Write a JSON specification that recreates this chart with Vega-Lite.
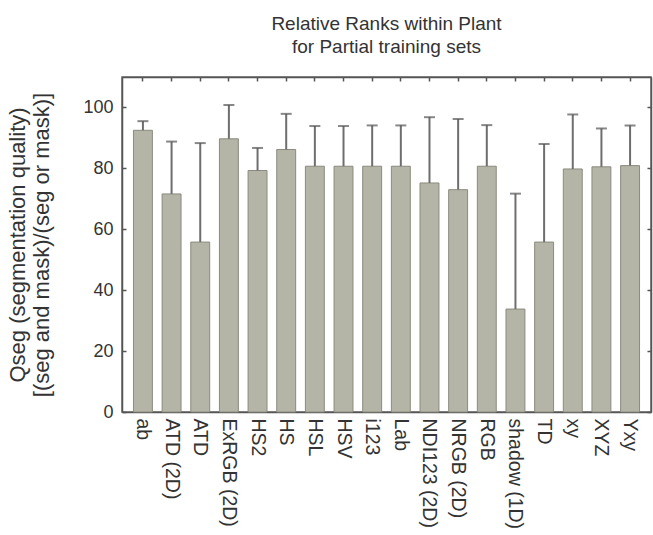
{
  "$schema": "https://vega.github.io/schema/vega-lite/v6.json",
  "width": 529,
  "height": 335,
  "autosize": {"type": "none"},
  "padding": {"left": 122, "top": 77, "right": 2, "bottom": 123},
  "background": "white",
  "title": {
    "text": ["Relative Ranks within Plant", "for Partial training sets"],
    "fontSize": 19,
    "font": "Liberation Sans",
    "fontWeight": "normal",
    "color": "#333333",
    "lineHeight": 23,
    "offset": 19
  },
  "config": {
    "view": {"stroke": "#666666", "strokeWidth": 1.5},
    "axis": {
      "grid": false,
      "domainColor": "#555555",
      "domainWidth": 1.5,
      "tickColor": "#555555",
      "tickWidth": 1.5,
      "labelFont": "Liberation Sans",
      "titleFont": "Liberation Sans",
      "labelColor": "#333333",
      "titleColor": "#333333"
    }
  },
  "data": {
    "values": [
      {"method": "ab", "value": 92.5, "upper": 95.5},
      {"method": "ATD (2D)", "value": 71.6, "upper": 88.8},
      {"method": "ATD", "value": 55.8, "upper": 88.3},
      {"method": "ExRGB (2D)", "value": 89.7, "upper": 100.8},
      {"method": "HS2", "value": 79.3, "upper": 86.7},
      {"method": "HS", "value": 86.2, "upper": 97.9},
      {"method": "HSL", "value": 80.7, "upper": 93.9},
      {"method": "HSV", "value": 80.7, "upper": 93.9},
      {"method": "i123", "value": 80.7, "upper": 94.1},
      {"method": "Lab", "value": 80.7, "upper": 94.1},
      {"method": "NDI123 (2D)", "value": 75.2, "upper": 96.8},
      {"method": "NRGB (2D)", "value": 73.0, "upper": 96.2},
      {"method": "RGB", "value": 80.7, "upper": 94.2},
      {"method": "shadow (1D)", "value": 33.8, "upper": 71.7},
      {"method": "TD", "value": 55.8, "upper": 88.0},
      {"method": "xy", "value": 79.8, "upper": 97.7},
      {"method": "XYZ", "value": 80.5, "upper": 93.1},
      {"method": "Yxy", "value": 80.9, "upper": 94.1}
    ]
  },
  "layer": [
    {
      "mark": {"type": "bar", "fill": "#b5b5a7", "stroke": "#8a8a7e", "strokeWidth": 1},
      "encoding": {
        "x": {
          "field": "method", "type": "nominal", "sort": null,
          "scale": {"paddingInner": 0.34, "paddingOuter": 0.4},
          "axis": {"orient": "bottom", "title": null, "labelAngle": 90, "labelFontSize": 19.5, "tickSize": -4, "labelPadding": 10}
        },
        "y": {
          "field": "value", "type": "quantitative",
          "scale": {"domain": [0, 110], "nice": false},
          "axis": {
            "orient": "left",
            "values": [0, 20, 40, 60, 80, 100],
            "tickSize": -4,
            "labelFontSize": 18,
            "labelPadding": 13,
            "title": ["Qseg (segmentation quality)", "[(seg and mask)/(seg or mask)]"],
            "titleFontSize": 22,
            "titleFontWeight": "normal",
            "titleLineHeight": 24,
            "titlePadding": 29
          }
        }
      }
    },
    {
      "mark": {"type": "rule", "color": "#6e6e6e", "strokeWidth": 2},
      "encoding": {
        "x": {
          "field": "method", "type": "nominal", "sort": null,
          "axis": {"orient": "top", "title": null, "labels": false, "tickSize": -4, "domain": true}
        },
        "y": {
          "field": "value", "type": "quantitative",
          "axis": {"orient": "right", "title": null, "labels": false, "values": [0, 20, 40, 60, 80, 100], "tickSize": -4}
        },
        "y2": {"field": "upper"}
      }
    },
    {
      "mark": {"type": "tick", "orient": "horizontal", "color": "#555555", "size": 11, "thickness": 2},
      "encoding": {
        "x": {"field": "method", "type": "nominal", "sort": null, "axis": null},
        "y": {"field": "upper", "type": "quantitative", "axis": null}
      }
    }
  ],
  "resolve": {"axis": {"x": "independent", "y": "independent"}}
}
